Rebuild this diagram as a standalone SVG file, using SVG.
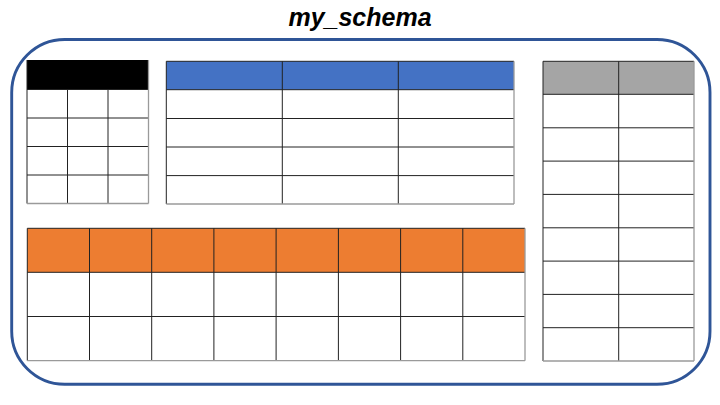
<svg xmlns="http://www.w3.org/2000/svg" width="720" height="405" viewBox="0 0 720 405">
<style>
.title{font-family:"Liberation Sans",Arial,sans-serif;font-weight:bold;font-style:italic;font-size:25px;fill:#000}
.grid{fill:none;stroke:#222;stroke-width:1}
.edge{fill:none;stroke:#9a9a9a;stroke-width:1.3}
.body{fill:#fff}
</style>
<rect width="720" height="405" fill="#fff"/>
<text class="title" x="360" y="26" text-anchor="middle">my_schema</text>
<rect id="schema" x="11.7" y="39.5" width="698.3" height="344.8" rx="53" ry="53" fill="none" stroke="#2F5597" stroke-width="2.9"/>

<g id="table-black">
<rect class="body" x="27" y="60" width="121.5" height="143.5"/>
<rect x="27" y="60" width="121.5" height="29.5" fill="#000"/>
<path class="grid" d="M27 60V203.5M67.5 89.5V203.5M108 89.5V203.5M27 89.5H148.5M27 118H148.5M27 146.5H148.5M27 175H148.5"/>
<path class="edge" d="M148.5 60V203.5M27 203.5H148.5"/>
</g>

<g id="table-blue">
<rect class="body" x="166.3" y="61.3" width="347.7" height="142.7"/>
<rect x="166.3" y="61.3" width="347.7" height="28.4" fill="#4472C4"/>
<path class="grid" d="M166.3 61.3H514M166.3 61.3V204M282.3 61.3V204M398.3 61.3V204M166.3 89.7H514M166.3 118.5H514M166.3 147H514M166.3 175.6H514"/>
<path class="edge" d="M514 61.3V204M166.3 204H514"/>
</g>

<g id="table-gray">
<rect class="body" x="543" y="61.3" width="151" height="299.7"/>
<rect x="543" y="61.3" width="151" height="33" fill="#A5A5A5"/>
<path class="grid" d="M543 61.3H694M543 61.3V361M618.7 61.3V361M543 94.3H694M543 127.8H694M543 161.1H694M543 194.4H694M543 227.8H694M543 261.1H694M543 294.4H694M543 327.7H694"/>
<path class="edge" d="M694 61.3V361M543 361H694"/>
</g>

<g id="table-orange">
<rect class="body" x="27.3" y="228.3" width="497.7" height="132.4"/>
<rect x="27.3" y="228.3" width="497.7" height="44" fill="#ED7D31"/>
<path class="grid" d="M27.3 228.3H525M27.3 228.3V360.7M89.5 228.3V360.7M151.7 228.3V360.7M213.9 228.3V360.7M276.1 228.3V360.7M338.4 228.3V360.7M400.6 228.3V360.7M462.8 228.3V360.7M27.3 272.3H525M27.3 316.5H525"/>
<path class="edge" d="M525 228.3V360.7M27.3 360.7H525"/>
</g>
</svg>
